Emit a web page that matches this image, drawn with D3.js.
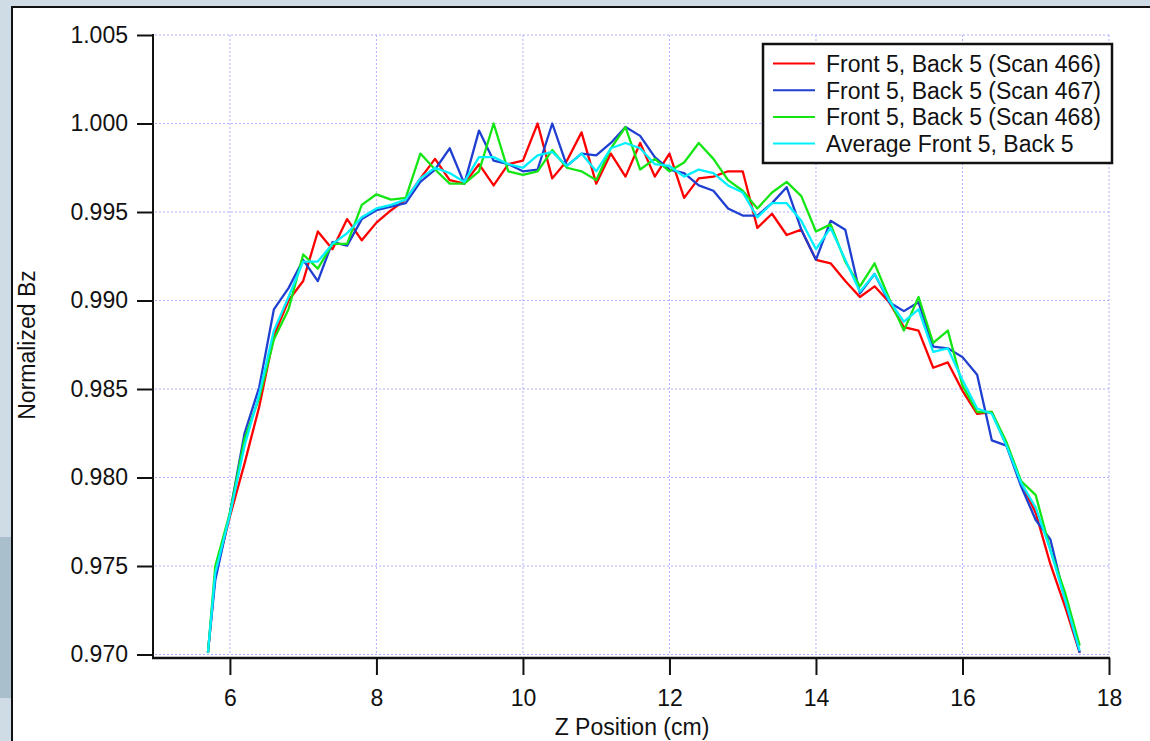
<!DOCTYPE html>
<html>
	<head>
		<title>Normalized Bz vs Z Position</title>
		<style>
		body {
			margin: 0;
			background: #cfdbe5;
		}

		svg {
			display: block;
			font-family: "Liberation Sans", Arial, sans-serif;
		}

		.axis text {
			font-size: 23px;
			fill: #111;
		}

		.axis line {
			stroke: #111;
			stroke-width: 2px;
		}

		.grid line {
			stroke: #b0b0ff;
			stroke-width: 1px;
			stroke-dasharray: 2, 2;
		}

		.series {
			fill: none;
			stroke-width: 2.3px;
			stroke-linejoin: round;
		}
		</style>
		<script src="https://d3js.org/d3.v7.min.js"></script>
	</head>
	<body>
		<svg id="chart" width="1150" height="741"></svg>

		<script>
		// Z positions (cm)
		var zPos = [5.7, 5.8, 6.0, 6.2, 6.4, 6.6, 6.8, 7.0, 7.2, 7.4, 7.6, 7.8, 8.0, 8.2, 8.4, 8.6, 8.8, 9.0, 9.2, 9.4,
			9.6, 9.8, 10.0, 10.2, 10.4, 10.6, 10.8, 11.0, 11.2, 11.4, 11.6, 11.8, 12.0, 12.2, 12.4, 12.6, 12.8, 13.0, 13.2, 13.4,
			13.6, 13.8, 14.0, 14.2, 14.4, 14.6, 14.8, 15.0, 15.2, 15.4, 15.6, 15.8, 16.0, 16.2, 16.4, 16.6, 16.8, 17.0, 17.2, 17.4, 17.6];

		var scan466 = [0.9701, 0.9745, 0.9778, 0.9808, 0.9840, 0.9880, 0.9900, 0.9911, 0.9939, 0.9929, 0.9946, 0.9934, 0.9944, 0.9951, 0.9957, 0.9969, 0.9980, 0.9968, 0.9966, 0.9977,
			0.9965, 0.9977, 0.9979, 1.0000, 0.9969, 0.9979, 0.9995, 0.9966, 0.9983, 0.9970, 0.9989, 0.9970, 0.9983, 0.9958, 0.9969, 0.9970, 0.9973, 0.9973, 0.9941, 0.9949,
			0.9937, 0.9940, 0.9923, 0.9921, 0.9911, 0.9902, 0.9908, 0.9899, 0.9885, 0.9883, 0.9862, 0.9865, 0.9849, 0.9836, 0.9837, 0.9818, 0.9797, 0.9780, 0.9751, 0.9727, 0.9701];

		var scan467 = [0.9701, 0.9742, 0.9780, 0.9825, 0.9851, 0.9895, 0.9907, 0.9923, 0.9911, 0.9933, 0.9931, 0.9946, 0.9951, 0.9953, 0.9955, 0.9967, 0.9974, 0.9986, 0.9966, 0.9996,
			0.9979, 0.9977, 0.9973, 0.9974, 1.0000, 0.9976, 0.9983, 0.9982, 0.9989, 0.9998, 0.9993, 0.9981, 0.9974, 0.9972, 0.9965, 0.9962, 0.9952, 0.9948, 0.9948, 0.9955,
			0.9964, 0.9940, 0.9923, 0.9945, 0.9940, 0.9904, 0.9915, 0.9899, 0.9894, 0.9899, 0.9874, 0.9873, 0.9868, 0.9858, 0.9821, 0.9818, 0.9795, 0.9776, 0.9765, 0.9731, 0.9701];

		var scan468 = [0.9701, 0.9750, 0.9780, 0.9822, 0.9845, 0.9878, 0.9895, 0.9926, 0.9918, 0.9932, 0.9932, 0.9954, 0.9960, 0.9957, 0.9958, 0.9983, 0.9974, 0.9966, 0.9966, 0.9973,
			1.0000, 0.9973, 0.9971, 0.9973, 0.9985, 0.9975, 0.9973, 0.9968, 0.9986, 0.9998, 0.9974, 0.9980, 0.9973, 0.9978, 0.9989, 0.9980, 0.9968, 0.9962, 0.9952, 0.9961,
			0.9967, 0.9959, 0.9939, 0.9943, 0.9922, 0.9908, 0.9921, 0.9901, 0.9883, 0.9902, 0.9876, 0.9883, 0.9852, 0.9837, 0.9837, 0.9820, 0.9798, 0.9790, 0.9759, 0.9735, 0.9705];

		var average = [0.9701, 0.9746, 0.9779, 0.9818, 0.9847, 0.9883, 0.9902, 0.9922, 0.9922, 0.9932, 0.9938, 0.9947, 0.9952, 0.9954, 0.9957, 0.9969, 0.9975, 0.9972, 0.9967, 0.9981,
			0.9981, 0.9977, 0.9975, 0.9982, 0.9984, 0.9976, 0.9983, 0.9973, 0.9986, 0.9989, 0.9986, 0.9977, 0.9976, 0.9970, 0.9974, 0.9972, 0.9965, 0.9961, 0.9947, 0.9955,
			0.9955, 0.9945, 0.9929, 0.9941, 0.9923, 0.9905, 0.9915, 0.9900, 0.9888, 0.9895, 0.9871, 0.9873, 0.9855, 0.9839, 0.9836, 0.9818, 0.9797, 0.9783, 0.9759, 0.9731, 0.9702];

		var seriesNames = ['Front 5, Back 5 (Scan 466)', 'Front 5, Back 5 (Scan 467)', 'Front 5, Back 5 (Scan 468)', 'Average Front 5, Back 5'];
		var seriesColors = ['#ff0000', '#1f3fd0', '#14e614', '#00f0ff'];
		var xTicks = [6, 8, 10, 12, 14, 16, 18];
		var yTicks = [0.970, 0.975, 0.980, 0.985, 0.990, 0.995, 1.000, 1.005];

		function drawChart () {
			var	svg	= d3.select('#chart'),
				xScale	= d3.scaleLinear().domain([4.95, 18]).range([153, 1109]),
				yScale	= d3.scaleLinear().domain([0.970, 1.005]).range([654.5, 35]),
				xAxisY	= 658;

			// white panel with black frame
			svg.append('rect')
				.attr('x', 0).attr('y', 537)
				.attr('width', 12).attr('height', 161)
				.attr('fill', '#a9bfcb');

			svg.append('rect')
				.attr('x', 12).attr('y', 7)
				.attr('width', 1150).attr('height', 760)
				.attr('fill', '#ffffff')
				.attr('stroke', '#111')
				.attr('stroke-width', 2);

			// grid
			var grid = svg.append('g').attr('class', 'grid');

			grid.selectAll('line.v')
				.data(xTicks)
				.enter()
				.append('line')
				.attr('class', 'v')
				.attr('x1', function (d) { return xScale(d); })
				.attr('x2', function (d) { return xScale(d); })
				.attr('y1', yScale(1.005))
				.attr('y2', yScale(0.970));

			grid.selectAll('line.h')
				.data(yTicks)
				.enter()
				.append('line')
				.attr('class', 'h')
				.attr('x1', xScale.range()[0] + 2)
				.attr('x2', xScale(18))
				.attr('y1', function (d) { return yScale(d); })
				.attr('y2', function (d) { return yScale(d); });

			// axes
			var leftAxis = d3.axisLeft(yScale)
				.tickValues(yTicks)
				.tickFormat(d3.format('.3f'))
				.tickSize(16)
				.tickPadding(9)
				.tickSizeOuter(0);

			var bottomAxis = d3.axisBottom(xScale)
				.tickValues(xTicks)
				.tickFormat(d3.format('d'))
				.tickSize(17)
				.tickPadding(15)
				.tickSizeOuter(0);

			var gLeft = svg.append('g')
				.attr('class', 'left axis')
				.attr('transform', 'translate(153, 0)')
				.call(leftAxis);

			var gBottom = svg.append('g')
				.attr('class', 'bottom axis')
				.attr('transform', 'translate(0, ' + xAxisY + ')')
				.call(bottomAxis);

			gLeft.select('.domain').remove();
			gBottom.select('.domain').remove();
			gLeft.selectAll('text').attr('font-family', null).attr('font-size', null);
			gBottom.selectAll('text').attr('font-family', null).attr('font-size', null);

			svg.append('line')
				.attr('x1', 153).attr('x2', 153)
				.attr('y1', yScale(1.005) - 1).attr('y2', xAxisY + 1)
				.attr('stroke', '#111').attr('stroke-width', 2);

			svg.append('line')
				.attr('x1', 152).attr('x2', xScale(18) + 1)
				.attr('y1', xAxisY).attr('y2', xAxisY)
				.attr('stroke', '#111').attr('stroke-width', 2.5);

			// axis titles
			svg.append('text')
				.attr('x', 632).attr('y', 735)
				.attr('text-anchor', 'middle')
				.attr('font-size', 23)
				.attr('fill', '#111')
				.text('Z Position (cm)');

			svg.append('text')
				.attr('transform', 'translate(35, 345) rotate(-90)')
				.attr('text-anchor', 'middle')
				.attr('font-size', 23)
				.attr('fill', '#111')
				.text('Normalized Bz');

			// series
			var allSeries = [scan466, scan467, scan468, average];

			var line = d3.line()
				.x(function (d, i) { return xScale(zPos[i]); })
				.y(function (d) { return yScale(d); });

			svg.append('g')
				.selectAll('path')
				.data(allSeries)
				.enter()
				.append('path')
				.attr('class', 'series')
				.attr('stroke', function (d, i) { return seriesColors[i]; })
				.attr('d', line);

			// legend
			var legend = svg.append('g').attr('class', 'legend');

			legend.append('rect')
				.attr('x', 763).attr('y', 44)
				.attr('width', 349).attr('height', 119)
				.attr('fill', '#fff')
				.attr('stroke', '#111')
				.attr('stroke-width', 2.5);

			var rows = legend.selectAll('g.row')
				.data(seriesNames)
				.enter()
				.append('g')
				.attr('class', 'row')
				.attr('transform', function (d, i) { return 'translate(0, ' + (63.5 + i * 26.7) + ')'; });

			rows.append('line')
				.attr('x1', 773).attr('x2', 815)
				.attr('stroke', function (d, i) { return seriesColors[i]; })
				.attr('stroke-width', 2);

			rows.append('text')
				.attr('x', 826)
				.attr('y', 8.3)
				.attr('font-size', 23)
				.attr('fill', '#111')
				.text(function (d) { return d; });
		}

		drawChart();
		</script>
	</body>
</html>
